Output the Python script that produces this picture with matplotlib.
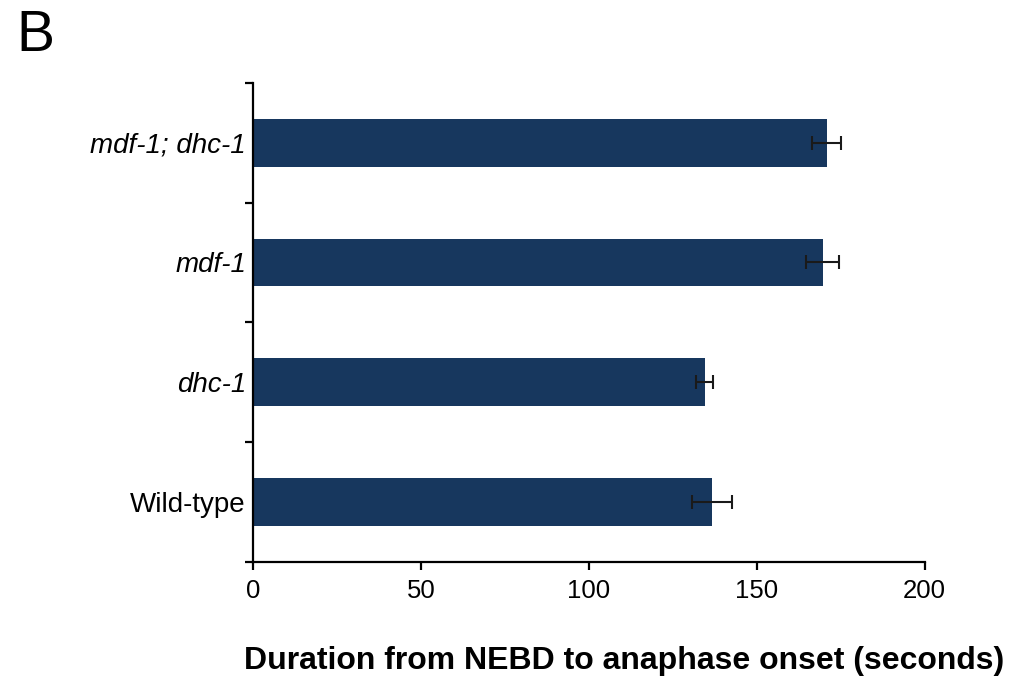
import numpy as np
import matplotlib.pyplot as plt

plt.rcParams['font.family'] = ['Liberation Sans', 'DejaVu Sans']

# data, bottom to top
groups = ['Wild-type', 'dhc-1', 'mdf-1', 'mdf-1; dhc-1']
italic = [False, True, True, True]
duration = [136.6, 134.5, 169.6, 170.8]
err = [6.0, 2.5, 5.0, 4.3]

fig = plt.figure(figsize=(10.24, 6.78), dpi=100)
ax = fig.add_axes([0.247, 0.171, 0.656, 0.707])

y = np.arange(len(groups))
ax.barh(y, duration, height=0.4, color='#17375e', zorder=2)
ax.errorbar(duration, y, xerr=err, fmt='none', ecolor='#1a1a1a',
            elinewidth=1.5, capsize=5, capthick=1.5, zorder=3)

ax.set_xlim(0, 200)
ax.set_ylim(-0.5, len(groups) - 0.5)
ax.set_xticks([0, 50, 100, 150, 200])
ax.set_yticks(np.arange(-0.5, len(groups), 1.0))
ax.set_yticklabels([])
ax.set_yticks(y, minor=True)
ax.set_yticklabels(groups, minor=True)
for lab, it in zip(ax.get_yticklabels(minor=True), italic):
    if it:
        lab.set_style('italic')

ax.tick_params(axis='y', which='minor', length=0, pad=5, labelsize=20)
ax.tick_params(axis='y', which='major', length=6, width=1.6, direction='out')
ax.tick_params(axis='x', length=6, width=1.6, direction='out', labelsize=18.5, pad=6)

for s in ['top', 'right']:
    ax.spines[s].set_visible(False)
for s in ['left', 'bottom']:
    ax.spines[s].set_linewidth(1.6)

ax.set_xlabel('Duration from NEBD to anaphase onset (seconds)',
              fontsize=23, fontweight='bold', labelpad=30)
ax.xaxis.set_label_coords(0.552, -0.175)

fig.text(0.016, 0.925, 'B', fontsize=41)

fig.savefig('out.png', dpi=100)
